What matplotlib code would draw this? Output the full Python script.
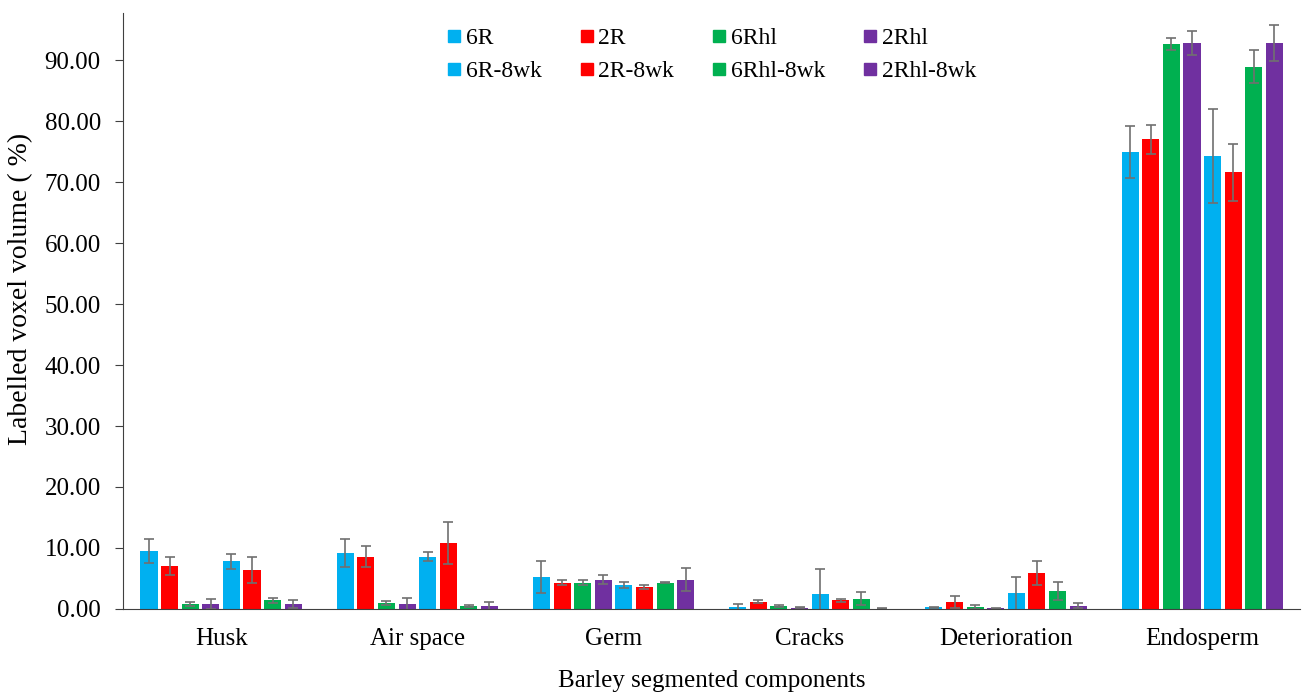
import matplotlib.pyplot as plt
import numpy as np

plt.rcParams['font.family'] = ['Liberation Serif', 'DejaVu Serif']

# componentes y series
componentes = ['Husk', 'Air space', 'Germ', 'Cracks', 'Deterioration', 'Endosperm']
series = ['6R', '2R', '6Rhl', '2Rhl', '6R-8wk', '2R-8wk', '6Rhl-8wk', '2Rhl-8wk']
colores = ['#00B0F0', '#FF0000', '#00B050', '#7030A0',
           '#00B0F0', '#FF0000', '#00B050', '#7030A0']

# valores medios (%) por serie, en el orden de componentes
v_6R = [9.5, 9.2, 5.2, 0.3, 0.3, 74.9]
v_2R = [7.1, 8.6, 4.3, 1.2, 1.2, 77.0]
v_6Rhl = [0.8, 1.0, 4.3, 0.5, 0.3, 92.7]
v_2Rhl = [0.8, 0.8, 4.8, 0.2, 0.1, 92.8]
v_6R8 = [7.8, 8.6, 3.9, 2.4, 2.6, 74.3]
v_2R8 = [6.4, 10.8, 3.6, 1.4, 5.9, 71.6]
v_6Rhl8 = [1.4, 0.5, 4.3, 1.7, 2.9, 88.9]
v_2Rhl8 = [0.8, 0.5, 4.8, 0.05, 0.5, 92.8]

# desviaciones
e_6R = [2.0, 2.3, 2.6, 0.5, 0.1, 4.3]
e_2R = [1.5, 1.7, 0.4, 0.3, 1.0, 2.4]
e_6Rhl = [0.3, 0.3, 0.4, 0.1, 0.3, 1.0]
e_2Rhl = [0.8, 1.0, 0.7, 0.1, 0.05, 2.0]
e_6R8 = [1.2, 0.7, 0.5, 4.2, 2.7, 7.7]
e_2R8 = [2.2, 3.5, 0.3, 0.3, 2.0, 4.7]
e_6Rhl8 = [0.4, 0.1, 0.1, 1.0, 1.5, 2.7]
e_2Rhl8 = [0.7, 0.6, 1.9, 0.05, 0.4, 3.0]

valores = [v_6R, v_2R, v_6Rhl, v_2Rhl, v_6R8, v_2R8, v_6Rhl8, v_2Rhl8]
errores = [e_6R, e_2R, e_6Rhl, e_2Rhl, e_6R8, e_2R8, e_6Rhl8, e_2Rhl8]

fig = plt.figure(figsize=(13.03, 6.92), dpi=100)
ax = fig.add_axes([0.0944, 0.12, 0.9036, 0.861])

x = np.arange(len(componentes))
paso = 0.105
ancho = 0.087
for i in range(len(series)):
    pos = x + (i - 3.5) * paso
    ax.bar(pos, valores[i], ancho, color=colores[i], label=series[i],
           yerr=errores[i], error_kw=dict(ecolor='#707070', elinewidth=1.2,
                                          capsize=3.5, capthick=1.2))

ax.set_xlim(-0.5, 5.5)
ax.set_ylim(0, 97.7)
ax.set_yticks(np.arange(0, 91, 10))
ax.set_yticklabels(['%.2f' % t for t in np.arange(0, 91, 10)], fontsize=18)
ax.set_xticks(x)
ax.set_xticklabels(componentes, fontsize=18)
ax.tick_params(axis='x', length=0, pad=14)
ax.tick_params(axis='y', length=6, direction='out', pad=10, color='#404040')
for lado in ['top', 'right']:
    ax.spines[lado].set_visible(False)
ax.spines['left'].set_color('#404040')
ax.spines['bottom'].set_color('#404040')
ax.set_xlabel('Barley segmented components', fontsize=18, labelpad=14)
ax.set_ylabel('Labelled voxel volume ( %)', fontsize=20)
ax.yaxis.set_label_coords(-0.0765, 0.537)

# leyenda por filas
orden = [0, 4, 1, 5, 2, 6, 3, 7]
handles = [plt.Line2D([], [], marker='s', linestyle='', color=colores[i],
                      markersize=9) for i in orden]
ax.legend(handles, [series[i] for i in orden], ncol=4, loc='upper center',
          bbox_to_anchor=(0.5, 1.012), frameon=False, fontsize=17,
          handlelength=0.6, handletextpad=0.2, columnspacing=1.6,
          labelspacing=0.5)

plt.savefig('out.png', dpi=100)
